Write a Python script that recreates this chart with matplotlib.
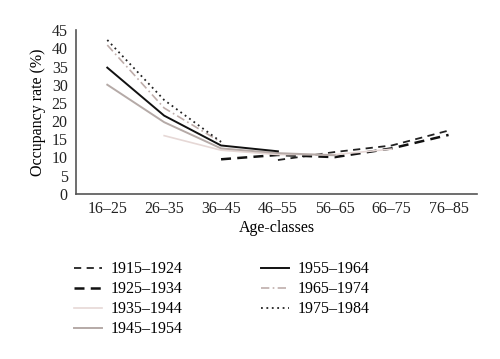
import numpy as np
import matplotlib
matplotlib.use("Agg")
import matplotlib.pyplot as plt

plt.rcParams['font.family'] = ['Liberation Serif', 'DejaVu Serif']

age_classes = ['16–25', '26–35', '36–45', '46–55', '56–65', '66–75', '76–85']
nan = np.nan

c1915 = [nan, nan, nan, 9.3, 11.5, 13.3, 17.4]
c1925 = [nan, nan, 9.5, 10.7, 10.1, 12.5, 16.2]
c1935 = [nan, 16.0, 12.0, 10.8, 10.8, 12.3, nan]
c1945 = [30.0, 19.7, 12.5, 11.2, 10.6, nan, nan]
c1955 = [34.7, 21.5, 13.3, 11.7, nan, nan, nan]
c1965 = [40.9, 23.6, 14.2, nan, nan, nan, nan]
c1975 = [42.3, 25.8, 14.3, nan, nan, nan, nan]

cohorts = ['1915–1924', '1925–1934', '1935–1944', '1945–1954',
           '1955–1964', '1965–1974', '1975–1984']
series = [c1915, c1925, c1935, c1945, c1955, c1965, c1975]
styles = [
    dict(color='#222222', ls=(0, (4, 3)), lw=1.3),
    dict(color='#111111', ls=(0, (4, 2.5)), lw=1.8),
    dict(color='#e6d8d6', ls='-', lw=1.2),
    dict(color='#b5aaa7', ls='-', lw=1.4),
    dict(color='#111111', ls='-', lw=1.4),
    dict(color='#bfaeab', ls=(0, (5, 2, 1, 2)), lw=1.2),
    dict(color='#222222', ls=(0, (1, 2)), lw=1.3),
]

fs = 11.5

fig = plt.figure(figsize=(5.0, 3.59), dpi=100)
ax = fig.add_axes([0.152, 0.46, 0.802, 0.456])

x = np.arange(len(age_classes))
for name, vals, st in zip(cohorts, series, styles):
    ax.plot(x, vals, label=name, **st)

ax.set_xlim(-0.55, 6.5)
ax.set_ylim(0, 45)
ax.set_yticks(range(0, 46, 5))
ax.set_xticks(x)
ax.set_xticklabels(age_classes)
ax.tick_params(axis='both', length=0, labelsize=fs, colors='#222222')
ax.tick_params(axis='y', pad=6)
ax.tick_params(axis='x', pad=5)
for s in ['top', 'right']:
    ax.spines[s].set_visible(False)
for s in ['left', 'bottom']:
    ax.spines[s].set_color('#555555')
    ax.spines[s].set_linewidth(1.2)

ax.set_ylabel('Occupancy rate (%)', fontsize=fs, labelpad=4)
ax.set_xlabel('Age-classes', fontsize=fs, labelpad=2)

fig.legend(loc='upper left', bbox_to_anchor=(0.12, 0.312), ncol=2,
           frameon=False, fontsize=fs, handlelength=1.75,
           columnspacing=4.9, labelspacing=0.25, handletextpad=0.55)

fig.savefig('out.png', dpi=100)
